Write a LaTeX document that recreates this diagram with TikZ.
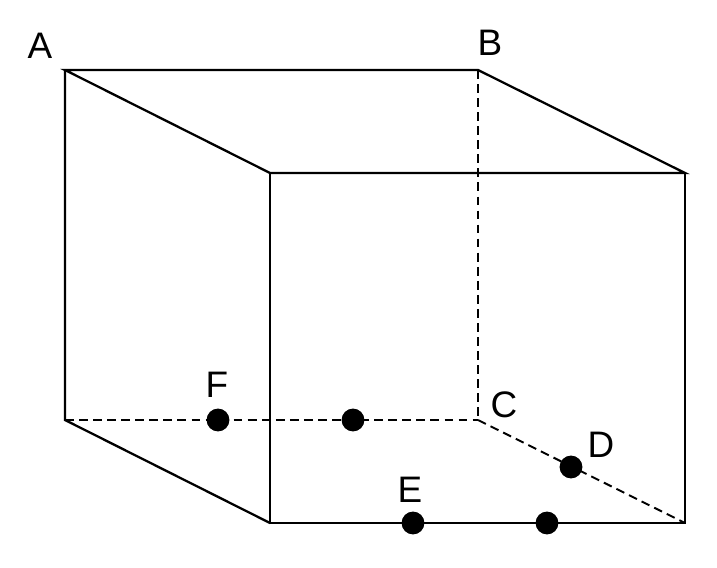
\documentclass[tikz,border=0pt]{standalone}
\usepackage{fontspec}
\setmainfont{Liberation Sans}
\tikzset{
	edge/.style   = {line width=1.3pt},
	hidden/.style = {line width=1.1pt, dashed, dash pattern=on 5pt off 3pt},
	dot/.style    = {circle, fill, inner sep=0pt, minimum size=13pt},
	lbl/.style    = {font=\fontsize{21}{24}\selectfont}
}
\begin{document}
\begin{tikzpicture}[x=0.02cm, y=-0.02cm]
	\useasboundingbox (0,0) rectangle (717,568);

	% corners of the cube
	\coordinate (a) at (65,70);
	\coordinate (b) at (478,70);
	\coordinate (tl) at (270,173);
	\coordinate (tr) at (685,173);
	\coordinate (bl) at (65,420);
	\coordinate (c) at (478,420);
	\coordinate (fl) at (270,523);
	\coordinate (fr) at (685,523);

	% visible edges
	\draw[edge] (a) -- (b) -- (tr) -- (tl) -- cycle;
	\draw[edge] (tl) -- (fl) -- (fr) -- (tr);
	\draw[edge] (a) -- (bl) -- (fl);

	% hidden edges
	\draw[hidden] (b) -- (c);
	\draw[hidden] (bl) -- (c);
	\draw[hidden] (c) -- (fr);

	% points
	\node[dot] (f) at (218,420) {};
	\node[dot] (f2) at (353,420) {};
	\node[dot] (e) at (413,523) {};
	\node[dot] (e2) at (547,523) {};
	\node[dot] (d) at (571,467) {};

	% labels
	\node[lbl] (la) at (40,46) {A};
	\node[lbl] (lb) at (490,43) {B};
	\node[lbl] (lc) at (504,405) {C};
	\node[lbl] (ld) at (601,445) {D};
	\node[lbl] (le) at (410,490) {E};
	\node[lbl] (lf) at (217,385) {F};
\end{tikzpicture}
\end{document}
